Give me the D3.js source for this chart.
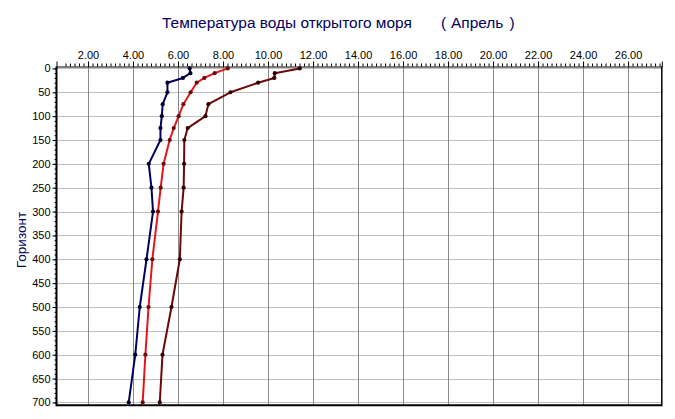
<!DOCTYPE html>
<html><head><meta charset="utf-8">
<script src="https://cdn.jsdelivr.net/npm/d3@7"></script>
<style>
html,body{margin:0;padding:0;background:#fff;}
svg{display:block;font-family:"Liberation Sans",Arial,sans-serif;}
</style></head>
<body>
<svg id="chart" width="675" height="419"></svg>
<script>
const depths = [0,10,20,30,50,75,100,125,150,200,250,300,400,500,600,700];
const tMin  = [6.52,6.55,6.22,5.53,5.53,5.32,5.28,5.22,5.22,4.70,4.82,4.89,4.60,4.30,4.10,3.81];
const tMean = [8.21,7.63,7.17,6.83,6.56,6.24,6.03,5.81,5.63,5.36,5.23,5.11,4.86,4.69,4.55,4.43];
const tMax  = [11.41,10.30,10.28,9.56,8.33,7.35,7.22,6.43,6.28,6.27,6.25,6.16,6.08,5.71,5.31,5.19];
const xTickValues = [2,4,6,8,10,12,14,16,18,20,22,24,26];
const yTickValues = [0,50,100,150,200,250,300,350,400,450,500,550,600,650,700];
const titleMain = "Температура воды открытого моря";
const titleMonth = "Апрель";
const yLabel = "Горизонт";

const series = [
  {values: tMin,  line: "#000060", dot: "#00002a"},
  {values: tMean, line: "#e3161c", dot: "#6a0c0c"},
  {values: tMax,  line: "#6d0808", dot: "#300000"}
];

const svg = d3.select("#chart");
const x = d3.scaleLinear().domain([0.6, 27.5]).range([56.5, 661.8]);
const y = d3.scaleLinear().domain([-4, 706]).range([66.5, 405.3]);
const [x0, x1] = x.range();
const [y0, y1] = y.range();

// grid
svg.append("g").selectAll("line").data(yTickValues).join("line")
  .attr("x1", x0).attr("x2", x1)
  .attr("y1", d => Math.round(y(d)) + 0.5).attr("y2", d => Math.round(y(d)) + 0.5)
  .attr("stroke", "#c0c0c0").attr("stroke-width", 1);
svg.append("g").selectAll("line").data(xTickValues).join("line")
  .attr("x1", d => Math.round(x(d)) + 0.5).attr("x2", d => Math.round(x(d)) + 0.5)
  .attr("y1", y0).attr("y2", y1)
  .attr("stroke", "#8a8a8a").attr("stroke-width", 1);

// top axis
const xMinor = d3.range(1, 27.5, 0.2).map(v => +v.toFixed(1)).filter(v => v >= 0.6);
const topAxis = d3.axisTop(x).tickValues(xTickValues).tickFormat(d3.format(".2f")).tickSize(5).tickPadding(3);
const gTop = svg.append("g").attr("transform", `translate(0,${y0})`).call(topAxis);
gTop.select(".domain").attr("stroke", "#000");
gTop.selectAll("text").attr("font-size", 11).attr("fill", "#000");
svg.append("g").attr("transform", `translate(0,${y0})`)
  .call(d3.axisTop(x).tickValues(xMinor).tickSize(3).tickFormat(""))
  .call(g => g.select(".domain").remove());

// left axis
const yMinor = d3.range(0, 701, 10);
const leftAxis = d3.axisLeft(y).tickValues(yTickValues).tickSize(4).tickPadding(2);
const gLeft = svg.append("g").attr("transform", `translate(${x0},0)`).call(leftAxis);
gLeft.select(".domain").remove();
gLeft.selectAll("text").attr("font-size", 11).attr("fill", "#000");
svg.append("g").attr("transform", `translate(${x0},0)`)
  .call(d3.axisLeft(y).tickValues(yMinor).tickSize(2).tickFormat(""))
  .call(g => g.select(".domain").remove());

// frame
svg.append("line").attr("x1", x0).attr("x2", x0).attr("y1", y0).attr("y2", y1 + 1).attr("stroke", "#000").attr("stroke-width", 2);
svg.append("line").attr("x1", x0).attr("x2", x1).attr("y1", y1).attr("y2", y1).attr("stroke", "#000").attr("stroke-width", 2);
svg.append("line").attr("x1", x1).attr("x2", x1).attr("y1", y0).attr("y2", y1 + 1).attr("stroke", "#000").attr("stroke-width", 1.5);

// lines
const line = d3.line().x(d => x(d[0])).y(d => y(d[1]));
series.forEach(s => {
  const pts = s.values.map((v, i) => [v, depths[i]]);
  svg.append("path").datum(pts).attr("d", line)
    .attr("fill", "none").attr("stroke", s.line).attr("stroke-width", 2)
    .attr("stroke-linejoin", "round");
  svg.append("g").selectAll("circle").data(pts).join("circle")
    .attr("cx", d => x(d[0])).attr("cy", d => y(d[1])).attr("r", 2.1)
    .attr("fill", s.dot);
});

// title
const tg = svg.append("g").attr("font-size", 16).attr("fill", "#000060");
const tm = tg.append("text").attr("x", 162).attr("y", 28).text(titleMain);
const w = tm.node().getComputedTextLength();
const fs = Math.max(14.5, Math.min(17, 16 * 250 / w));
tg.attr("font-size", fs);
tg.append("text").attr("x", 441).attr("y", 28).text("(");
const mon = tg.append("text").attr("x", 451).attr("y", 28).text(titleMonth);
const wm = mon.node().getComputedTextLength();
tg.append("text").attr("x", 451 + wm + 6).attr("y", 28).text(")");

// y label
svg.append("text").attr("transform", `translate(26,240) rotate(-90)`)
  .attr("text-anchor", "middle").attr("font-size", 13.5)
  .attr("fill", "#000060").text(yLabel);
</script>
</body></html>
